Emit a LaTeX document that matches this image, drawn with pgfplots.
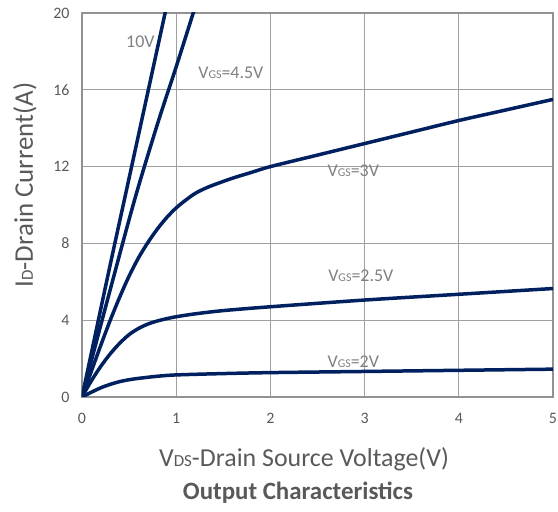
\documentclass[border=0pt]{standalone}
\usepackage{pgfplots}
\pgfplotsset{compat=1.18}
\usepackage{fontspec}
\setmainfont{Carlito}
\definecolor{curve}{HTML}{002060}
\definecolor{gridc}{HTML}{A0A0A0}
\definecolor{framec}{HTML}{929292}
\definecolor{tickc}{HTML}{595959}
\definecolor{labc}{HTML}{808080}
\newcommand{\fs}[2]{{\fontsize{#1}{#1}\selectfont #2}}
\pgfplotsset{vcurve/.style={curve, line width=3.5bp, smooth, mark=none}}

\begin{document}
\begin{tikzpicture}
\begin{axis}[
  scale only axis,
  width=471bp, height=384bp,
  xmin=0, xmax=5, ymin=0, ymax=20,
  xtick={0,1,2,3,4,5},
  ytick={0,4,8,12,16,20},
  grid=major,
  major grid style={gridc, line width=1.2bp},
  axis line style={framec, line width=2.8bp},
  tick style={draw=none},
  /pgf/number format/assume math mode=true,
  ticklabel style={font=\fontsize{16}{16}\selectfont, text=tickc},
  xticklabel style={anchor=center, yshift=-21bp},
  yticklabel style={anchor=east, xshift=-9bp},
  clip=true,
]
\coordinate (bl) at (rel axis cs:0,0);
% VGS = 10V
\addplot[vcurve] coordinates {(0,0) (0.1,2.3) (0.3,6.9) (0.5,11.4) (0.7,15.9) (0.9,20.4)};
% VGS = 4.5V
\addplot[vcurve] coordinates {(0,0) (0.1,1.9) (0.3,5.6) (0.56,10.3) (0.8,14.2) (1.0,17.2) (1.2,20.3)};
% VGS = 3V
\addplot[vcurve] coordinates {
  (0,0) (0.1,1.35) (0.2,2.7) (0.3,4.0) (0.4,5.2) (0.5,6.3) (0.6,7.25) (0.7,8.05)
  (0.8,8.75) (0.9,9.35) (1.0,9.85) (1.1,10.25) (1.2,10.6) (1.3,10.85) (1.4,11.05)
  (1.6,11.4) (1.8,11.7) (2,12) (2.5,12.6) (3,13.2) (3.5,13.8) (4,14.4) (4.5,14.95) (5,15.5)};
% VGS = 2.5V
\addplot[vcurve] coordinates {
  (0,0) (0.1,0.85) (0.2,1.6) (0.3,2.25) (0.4,2.8) (0.5,3.25) (0.6,3.57) (0.7,3.8)
  (0.8,3.96) (0.9,4.08) (1,4.18) (1.2,4.33) (1.5,4.5) (2,4.7) (3,5.05) (4,5.35) (5,5.65)};
% VGS = 2V
\addplot[vcurve] coordinates {
  (0,0) (0.1,0.25) (0.2,0.48) (0.3,0.66) (0.4,0.8) (0.5,0.9) (0.6,0.97)
  (0.8,1.08) (1,1.15) (1.5,1.22) (2,1.27) (3,1.33) (4,1.39) (5,1.45)};

\node[text=labc, font=\fontsize{18}{18}\selectfont] at (axis cs:0.62,18.5) {10V};
\node[text=labc, font=\fontsize{18}{18}\selectfont] at (axis cs:1.58,16.9) {V\fs{12}{GS}=4.5V};
\node[text=labc, font=\fontsize{18}{18}\selectfont] at (axis cs:2.88,11.8) {V\fs{12}{GS}=3V};
\node[text=labc, font=\fontsize{18}{18}\selectfont] at (axis cs:2.96,6.3) {V\fs{12}{GS}=2.5V};
\node[text=labc, font=\fontsize{18}{18}\selectfont] at (axis cs:2.88,1.85) {V\fs{12}{GS}=2V};
\end{axis}

\node[text=tickc, font=\fontsize{26}{26}\selectfont] at ([shift={(222bp,-62bp)}]bl)
  {V\fs{17}{DS}-Drain Source Voltage(V)};
\node[text=tickc, font=\bfseries\fontsize{25}{25}\selectfont] at ([shift={(216bp,-96bp)}]bl)
  {Output Characteristics};
\node[text=tickc, rotate=90, font=\fontsize{27}{27}\selectfont] at ([shift={(-57bp,212bp)}]bl)
  {I\fs{17}{D}-Drain Current(A)};

\pgfresetboundingbox
\path (bl) ++(-82bp,-115bp) rectangle ++(558bp,512bp);
\end{tikzpicture}
\end{document}
